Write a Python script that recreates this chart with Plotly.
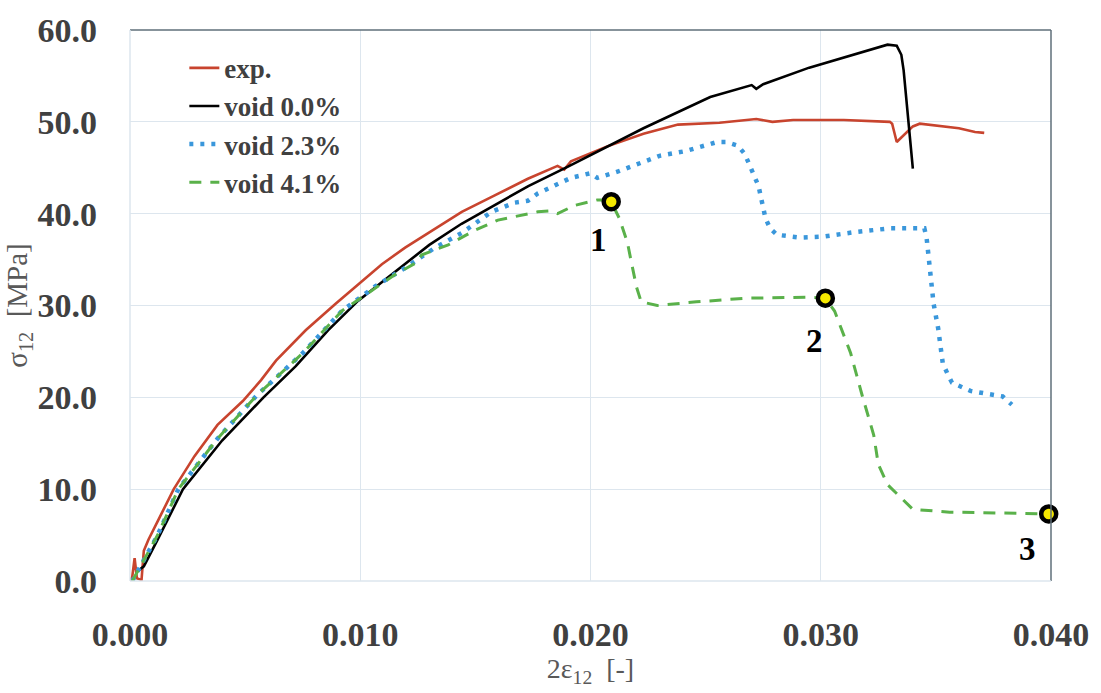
import plotly.graph_objects as go

# ---------------- data ----------------
exp_x = [0.0, 0.0001, 0.0002, 0.0003, 0.0004, 0.0005, 0.0006, 0.0008, 0.0012, 0.0019, 0.0028, 0.0038,
         0.0049, 0.0057, 0.00634, 0.00763, 0.00893, 0.01008, 0.01094, 0.01195, 0.0130, 0.01441, 0.01584,
         0.01728, 0.01857, 0.01886, 0.01915, 0.0207, 0.0223, 0.0238, 0.0256, 0.0272, 0.0279, 0.0288,
         0.0310, 0.0330, 0.0331, 0.0333, 0.0340, 0.0343, 0.0360, 0.0367, 0.0371]
exp_y = [0.0, 0.5, 2.5, 0.3, 0.2, 0.1, 3.3, 4.5, 6.5, 10.0, 13.6, 17.0,
         19.6, 21.9, 24.0, 27.3, 30.2, 32.6, 34.5, 36.3, 38.0, 40.2, 42.0,
         43.8, 45.2, 44.8, 45.7, 47.3, 48.7, 49.7, 49.9, 50.3, 50.0, 50.2,
         50.2, 50.0, 49.8, 47.8, 49.5, 49.8, 49.3, 48.9, 48.8]

v00_x = [0.0003, 0.0006, 0.0012, 0.0023, 0.0040, 0.0058, 0.0072, 0.0086, 0.0099, 0.0115, 0.0130, 0.0144,
         0.0158, 0.0173, 0.0190, 0.0207, 0.0223, 0.0252, 0.0270, 0.0272, 0.0275, 0.0295, 0.0317,
         0.0329, 0.0333, 0.0335, 0.0336, 0.0338, 0.0340]
v00_y = [1.0, 1.6, 4.5, 10.0, 15.3, 20.0, 23.4, 27.3, 30.5, 33.7, 36.6, 38.9,
         40.9, 43.0, 45.1, 47.3, 49.3, 52.7, 54.0, 53.6, 54.1, 55.9, 57.5,
         58.4, 58.3, 57.3, 55.6, 50.2, 44.9]

v23_x = [0.0001, 0.0005, 0.0012, 0.0021, 0.0038, 0.0055, 0.0075, 0.0092, 0.01066, 0.01195, 0.01325,
         0.01441, 0.0157, 0.01671, 0.01728, 0.01771, 0.01857, 0.01915, 0.0200, 0.0203, 0.0212, 0.0221,
         0.0230, 0.0241, 0.0249, 0.0255, 0.0259, 0.0264, 0.0267, 0.0269, 0.0271, 0.0273, 0.0274,
         0.0275, 0.0276, 0.0278, 0.0281, 0.0291, 0.0301, 0.0315, 0.0330, 0.0340, 0.0345, 0.0346,
         0.0347, 0.0348, 0.0349, 0.0351, 0.0352, 0.0353, 0.0355, 0.0357, 0.0365, 0.0375, 0.0379, 0.0383]
v23_y = [0.0, 1.8, 5.0, 10.0, 15.5, 20.2, 24.8, 29.4, 32.1, 34.1, 36.3,
         37.9, 40.2, 41.2, 41.4, 42.2, 43.2, 43.9, 44.4, 43.9, 44.6, 45.5,
         46.3, 46.8, 47.4, 47.8, 47.8, 47.4, 46.5, 45.4, 44.3, 43.0, 41.8,
         40.7, 39.5, 38.4, 37.7, 37.4, 37.5, 38.0, 38.4, 38.4, 38.4, 37.3,
         34.8, 32.3, 30.2, 27.5, 25.1, 23.7, 22.6, 21.6, 20.7, 20.2, 20.1, 19.2]

v41_x = [0.0001, 0.0005, 0.0012, 0.0021, 0.0038, 0.0055, 0.0075, 0.0092, 0.01153, 0.01253, 0.01266,
         0.01382, 0.01499, 0.01598, 0.01771, 0.01827, 0.01857, 0.01931, 0.0203, 0.0205, 0.0209,
         0.02125, 0.0216, 0.0218, 0.0220, 0.0222, 0.0229, 0.0246, 0.0268, 0.0294, 0.0302, 0.0306,
         0.0313, 0.0318, 0.0323, 0.0325, 0.0329, 0.0340, 0.0356, 0.0379, 0.0392, 0.0399]
v41_y = [0.0, 1.8, 5.0, 10.0, 15.5, 20.2, 24.8, 29.4, 33.4, 34.8, 35.5,
         36.6, 38.2, 39.3, 40.2, 40.3, 40.0, 40.9, 41.5, 41.5, 41.3,
         39.5, 36.9, 34.4, 32.0, 30.4, 30.0, 30.4, 30.8, 30.9, 30.8, 29.4,
         24.8, 20.2, 15.9, 12.7, 10.5, 7.8, 7.5, 7.4, 7.3, 7.3]

pt_x = [0.0209, 0.0302, 0.0399]
pt_y = [41.3, 30.8, 7.3]
pt_labels = ["1", "2", "3"]

x_ticks = [0.0, 0.01, 0.02, 0.03, 0.04]
x_ticklabels = ["0.000", "0.010", "0.020", "0.030", "0.040"]
y_ticks = [0, 10, 20, 30, 40, 50, 60]
y_ticklabels = ["0.0", "10.0", "20.0", "30.0", "40.0", "50.0", "60.0"]

# ---------------- figure ----------------
SERIF = "Liberation Serif"
fig = go.Figure()

fig.add_trace(go.Scatter(x=exp_x, y=exp_y, mode="lines", name="exp.", legendgroup="a",
                         line=dict(color="#c8442e", width=2.6)))
fig.add_trace(go.Scatter(x=v00_x, y=v00_y, mode="lines", name="void 0.0%", legendgroup="b",
                         line=dict(color="#000000", width=2.6)))
fig.add_trace(go.Scatter(x=v23_x, y=v23_y, mode="lines", name="void 2.3%", legendgroup="c",
                         line=dict(color="#3a97db", width=4.5, dash="4px,7px")))
fig.add_trace(go.Scatter(x=v41_x, y=v41_y, mode="lines", name="void 4.1%", legendgroup="d",
                         line=dict(color="#5ab14a", width=3, dash="12px,9px")))
fig.add_trace(go.Scatter(x=pt_x, y=pt_y, mode="markers", showlegend=False, cliponaxis=False,
                         marker=dict(size=15, color="#f5e800", line=dict(color="#000000", width=4.5))))

shifts = [(-13, -38), (-11, -43), (-21, -35)]
for xv, yv, lab, (dx, dy) in zip(pt_x, pt_y, pt_labels, shifts):
    fig.add_annotation(x=xv, y=yv, text=lab, showarrow=False, xshift=dx, yshift=dy,
                       font=dict(family=SERIF, size=33, color="#000000", weight="bold"))

grid = "#dde6ee"
fig.update_xaxes(range=[0, 0.04], tickvals=x_ticks, ticktext=x_ticklabels,
                 showgrid=True, gridcolor=grid, gridwidth=1, zeroline=False,
                 showline=False, ticks="", ticklabelstandoff=30,
                 tickfont=dict(family=SERIF, size=34, color="#404040", weight="bold"),
                 title=dict(text="2ε<sub>12</sub>  [-]", standoff=2,
                            font=dict(family=SERIF, size=28, color="#595959")))
fig.update_yaxes(range=[0, 60], tickvals=y_ticks, ticktext=y_ticklabels,
                 showgrid=True, gridcolor=grid, gridwidth=1, zeroline=False,
                 showline=False, ticks="", ticklabelstandoff=32,
                 tickfont=dict(family=SERIF, size=34, color="#404040", weight="bold"),
                 title=dict(text="σ<sub>12</sub>  [MPa]", standoff=0,
                            font=dict(family=SERIF, size=29, color="#595959")))

# frame on top and right edges
fig.add_shape(type="line", xref="paper", yref="paper", x0=0, x1=1, y0=1, y1=1,
              line=dict(color="#5f6f7a", width=1.5))
fig.add_shape(type="line", xref="paper", yref="paper", x0=1, x1=1, y0=0, y1=1,
              line=dict(color="#5f6f7a", width=1.5))
# light bottom & left edges
fig.add_shape(type="line", xref="paper", yref="paper", x0=0, x1=1, y0=0, y1=0,
              line=dict(color=grid, width=1.5))
fig.add_shape(type="line", xref="paper", yref="paper", x0=0, x1=0, y0=0, y1=1,
              line=dict(color=grid, width=1.5))

fig.update_layout(
    width=1101, height=693,
    margin=dict(l=130, r=45, t=22, b=112),
    paper_bgcolor="white", plot_bgcolor="white",
    showlegend=True,
    legend=dict(x=0.059, y=0.975, xanchor="left", yanchor="top",
                bgcolor="rgba(255,255,255,0)", tracegroupgap=0,
                font=dict(family=SERIF, size=27, color="#404040", weight="bold")),
)

fig.write_html("out.html")
